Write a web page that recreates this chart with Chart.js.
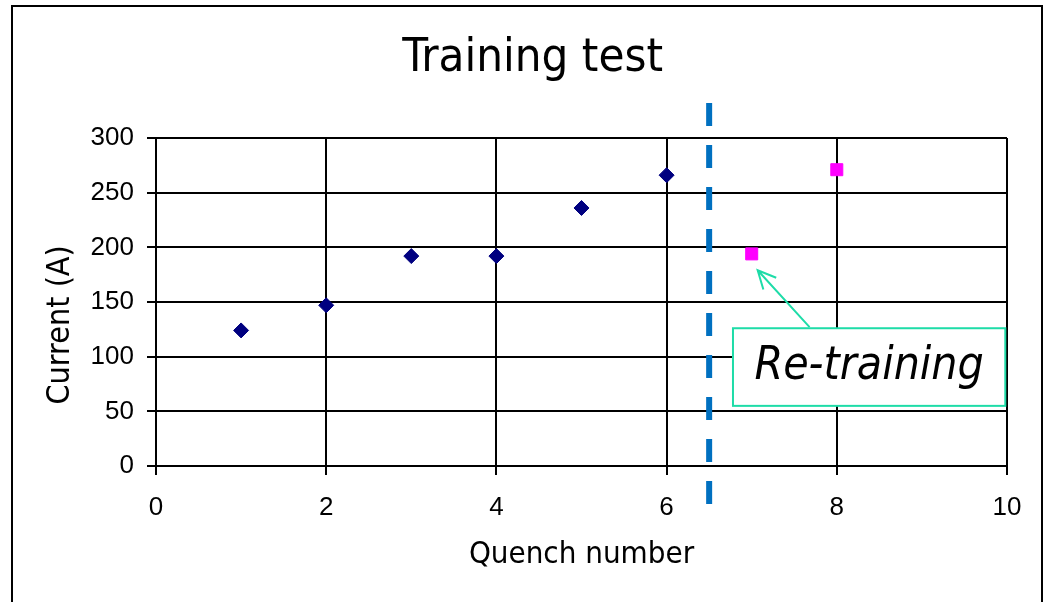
<!DOCTYPE html>
<html>
<head>
<meta charset="utf-8">
<title>Training test</title>
<script src="https://cdn.jsdelivr.net/npm/chart.js@4.4.1/dist/chart.umd.min.js"></script>
<style>
  html, body { margin: 0; padding: 0; background: #fff; }
  body { width: 1045px; height: 602px; overflow: hidden; position: relative; }
  .frame { position: absolute; left: 11px; top: 5px; width: 1028px; height: 620px; border: 2px solid #000; }
  .chart-wrap { position: absolute; left: 0; top: 0; width: 1045px; height: 602px; }
</style>
</head>
<body>
<div class="frame"></div>
<div class="chart-wrap"><canvas id="trainingChart"></canvas></div>
<script>
// quench data
const quenchNo = [1, 2, 3, 4, 5, 6];
const quenchCurrent = [124, 147, 192, 192, 236, 266];
const retrainNo = [7, 8];
const retrainCurrent = [194, 271];
const xTicks = [0, 2, 4, 6, 8, 10];
const yTicks = [0, 50, 100, 150, 200, 250, 300];

// annotation (data units)
const dividerX = 6.5;
const dividerSpan = [-36, 332];
const noteBox = { x0: 6.78, x1: 9.98, y0: 126, y1: 55 };
const noteArrow = { fromX: 7.68, fromY: 127, toX: 7.07, toY: 179 };
const noteText = 'Re-training';

const labelFont = "'DejaVu Sans Condensed', 'DejaVu Sans', sans-serif";
const tickFont = "'Liberation Sans', Arial, sans-serif";

const toPoints = (xs, ys) => xs.map((x, i) => ({ x, y: ys[i] }));

const annotate = {
    id: 'annotate',
    afterDatasetsDraw(chart) {
        const { ctx, scales: { x, y } } = chart;
        ctx.save();

        // dashed divider
        const dx = x.getPixelForValue(dividerX);
        ctx.strokeStyle = '#0070C0';
        ctx.lineWidth = 6;
        ctx.setLineDash([23, 19]);
        ctx.beginPath();
        ctx.moveTo(dx, y.getPixelForValue(dividerSpan[1]));
        ctx.lineTo(dx, y.getPixelForValue(dividerSpan[0]));
        ctx.stroke();
        ctx.setLineDash([]);

        // callout box
        const bx0 = x.getPixelForValue(noteBox.x0), bx1 = x.getPixelForValue(noteBox.x1);
        const by0 = y.getPixelForValue(noteBox.y0), by1 = y.getPixelForValue(noteBox.y1);
        ctx.fillStyle = '#fff';
        ctx.fillRect(bx0, by0, bx1 - bx0, by1 - by0);
        ctx.strokeStyle = '#1EDCA8';
        ctx.lineWidth = 2;
        ctx.strokeRect(bx0, by0, bx1 - bx0, by1 - by0);

        // arrow
        const ax0 = x.getPixelForValue(noteArrow.fromX), ay0 = y.getPixelForValue(noteArrow.fromY);
        const ax1 = x.getPixelForValue(noteArrow.toX), ay1 = y.getPixelForValue(noteArrow.toY);
        const ang = Math.atan2(ay1 - ay0, ax1 - ax0);
        const head = 20;
        ctx.beginPath();
        ctx.moveTo(ax0, ay0);
        ctx.lineTo(ax1, ay1);
        ctx.moveTo(ax1 - head * Math.cos(ang - 0.45), ay1 - head * Math.sin(ang - 0.45));
        ctx.lineTo(ax1, ay1);
        ctx.lineTo(ax1 - head * Math.cos(ang + 0.45), ay1 - head * Math.sin(ang + 0.45));
        ctx.stroke();

        ctx.fillStyle = '#000';
        ctx.font = "italic 46px " + labelFont;
        ctx.textAlign = 'center';
        ctx.textBaseline = 'middle';
        ctx.fillText(noteText, (bx0 + bx1) / 2, (by0 + by1) / 2);
        ctx.restore();
    }
};

const axisCommon = {
    type: 'linear',
    grid: { color: '#000', lineWidth: 2, tickLength: 9, drawTicks: true },
    border: { color: '#000', width: 2 },
};

new Chart(document.getElementById('trainingChart'), {
    type: 'scatter',
    data: {
        datasets: [
            {
                label: 'Training',
                data: toPoints(quenchNo, quenchCurrent),
                pointStyle: 'rectRot',
                pointRadius: 7.5,
                backgroundColor: '#000080',
                borderColor: '#000080',
                borderWidth: 1
            },
            {
                label: 'Re-training',
                data: toPoints(retrainNo, retrainCurrent),
                pointStyle: 'rect',
                pointRadius: 8.5,
                backgroundColor: '#FF00FF',
                borderColor: '#FF00FF',
                borderWidth: 1
            }
        ]
    },
    options: {
        responsive: true,
        maintainAspectRatio: false,
        animation: false,
        layout: { padding: { left: 18, right: 38, top: 0, bottom: 0 } },
        plugins: {
            legend: { display: false },
            tooltip: { enabled: false },
            title: {
                display: true,
                text: '   Training test',
                color: '#000',
                font: { family: labelFont, size: 47, weight: 'normal' },
                padding: { top: 31, bottom: 50.6 }
            }
        },
        scales: {
            x: {
                ...axisCommon,
                min: 0, max: 10,
                afterBuildTicks: (s) => { s.ticks = xTicks.map(v => ({ value: v })); },
                afterFit: (s) => { s.height = 136; },
                ticks: { color: '#000', padding: 17, font: { family: tickFont, size: 26 } },
                title: {
                    display: true, text: 'Quench number', color: '#000',
                    font: { family: labelFont, size: 31 },
                    padding: { top: 0, bottom: 28 }
                }
            },
            y: {
                ...axisCommon,
                min: 0, max: 300,
                afterBuildTicks: (s) => { s.ticks = yTicks.map(v => ({ value: v })); },
                afterFit: (s) => { s.width = 138; },
                ticks: { color: '#000', padding: 13, font: { family: tickFont, size: 26 } },
                title: {
                    display: true, text: 'Current (A)     ', color: '#000',
                    font: { family: labelFont, size: 32 },
                    padding: { top: 23, bottom: 0 }
                }
            }
        }
    },
    plugins: [annotate]
});
</script>
</body>
</html>
